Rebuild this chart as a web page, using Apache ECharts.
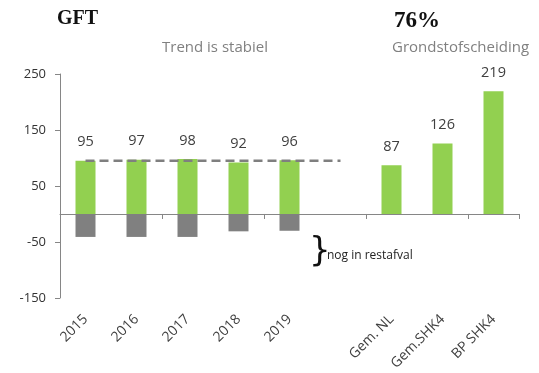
<!DOCTYPE html>
<html>
<head>
<meta charset="utf-8">
<script src="https://cdn.jsdelivr.net/npm/echarts@6/dist/echarts.min.js"></script>
<style>html,body{margin:0;padding:0;background:#fff;}#c{width:539px;height:373px;}</style>
</head>
<body>
<div id="c"></div>
<script>
var categories = ['2015', '2016', '2017', '2018', '2019', '', 'Gem. NL', 'Gem.SHK4', 'BP SHK4'];
var gftValues = [95, 97, 98, 92, 96, null, 87, 126, 219];
var restValues = [-41, -41, -41, -31, -30, null, null, null, null];
var trendValues = [95, 95, 95, 95, 95, 95, null, null, null];
var yTicks = { min: -150, max: 250, interval: 100 };

var FONT = 'Open Sans';
var chart = echarts.init(document.getElementById('c'));
chart.setOption({
  animation: false,
  backgroundColor: '#fff',
  grid: { left: 60, right: 20, top: 74, bottom: 75, containLabel: false },
  xAxis: [
    {
      type: 'category', data: categories, position: 'bottom',
      axisLine: { show: false, onZero: false }, axisTick: { show: false },
      axisLabel: { rotate: 45, margin: 19, fontFamily: FONT, fontSize: 14, color: '#404040', interval: 0 }
    },
    {
      type: 'category', data: categories, position: 'bottom',
      axisLine: { show: true, onZero: true, lineStyle: { color: '#868686', width: 1 } },
      axisTick: { show: true, length: 5, lineStyle: { color: '#868686' } },
      axisLabel: { show: false }
    }
  ],
  yAxis: {
    type: 'value', min: yTicks.min, max: yTicks.max, interval: yTicks.interval,
    axisLine: { show: true, lineStyle: { color: '#868686' } },
    axisTick: { show: true, length: 5, lineStyle: { color: '#868686' } },
    splitLine: { show: false },
    axisLabel: { fontFamily: FONT, fontSize: 13, color: '#333', margin: 14 }
  },
  series: [
    {
      type: 'bar', data: gftValues, stack: 'a', barWidth: 20,
      itemStyle: { color: '#92d050' },
      label: { show: true, position: 'top', distance: 11, fontFamily: FONT, fontSize: 14.5, color: '#404040' }
    },
    {
      type: 'bar', data: restValues, stack: 'a', barWidth: 20,
      itemStyle: { color: '#808080' }
    },
    {
      type: 'line', data: trendValues, symbol: 'none', z: 5,
      lineStyle: { color: '#7f7f7f', width: 2.5, type: [9, 5] }
    }
  ],
  graphic: [
    { type: 'text', left: 57, top: 9, style: { text: 'GFT', font: 'bold 20px "Liberation Serif"', fill: '#111' } },
    { type: 'text', left: 394, top: 10, style: { text: '76%', font: 'bold 23px "Liberation Serif"', fill: '#111' } },
    { type: 'text', left: 162, top: 40, style: { text: 'Trend is stabiel', font: '15px "Open Sans"', fill: '#808080' } },
    { type: 'text', left: 392, top: 40, style: { text: 'Grondstofscheiding', font: '15px "Open Sans"', fill: '#808080' } },
    { type: 'text', left: 309, top: 235, style: { text: '}', font: '34px "DejaVu Sans"', fill: '#111' } },
    { type: 'text', left: 327, top: 250, style: { text: 'nog in restafval', font: '12px "Open Sans"', fill: '#222' } }
  ]
});
</script>
</body>
</html>
